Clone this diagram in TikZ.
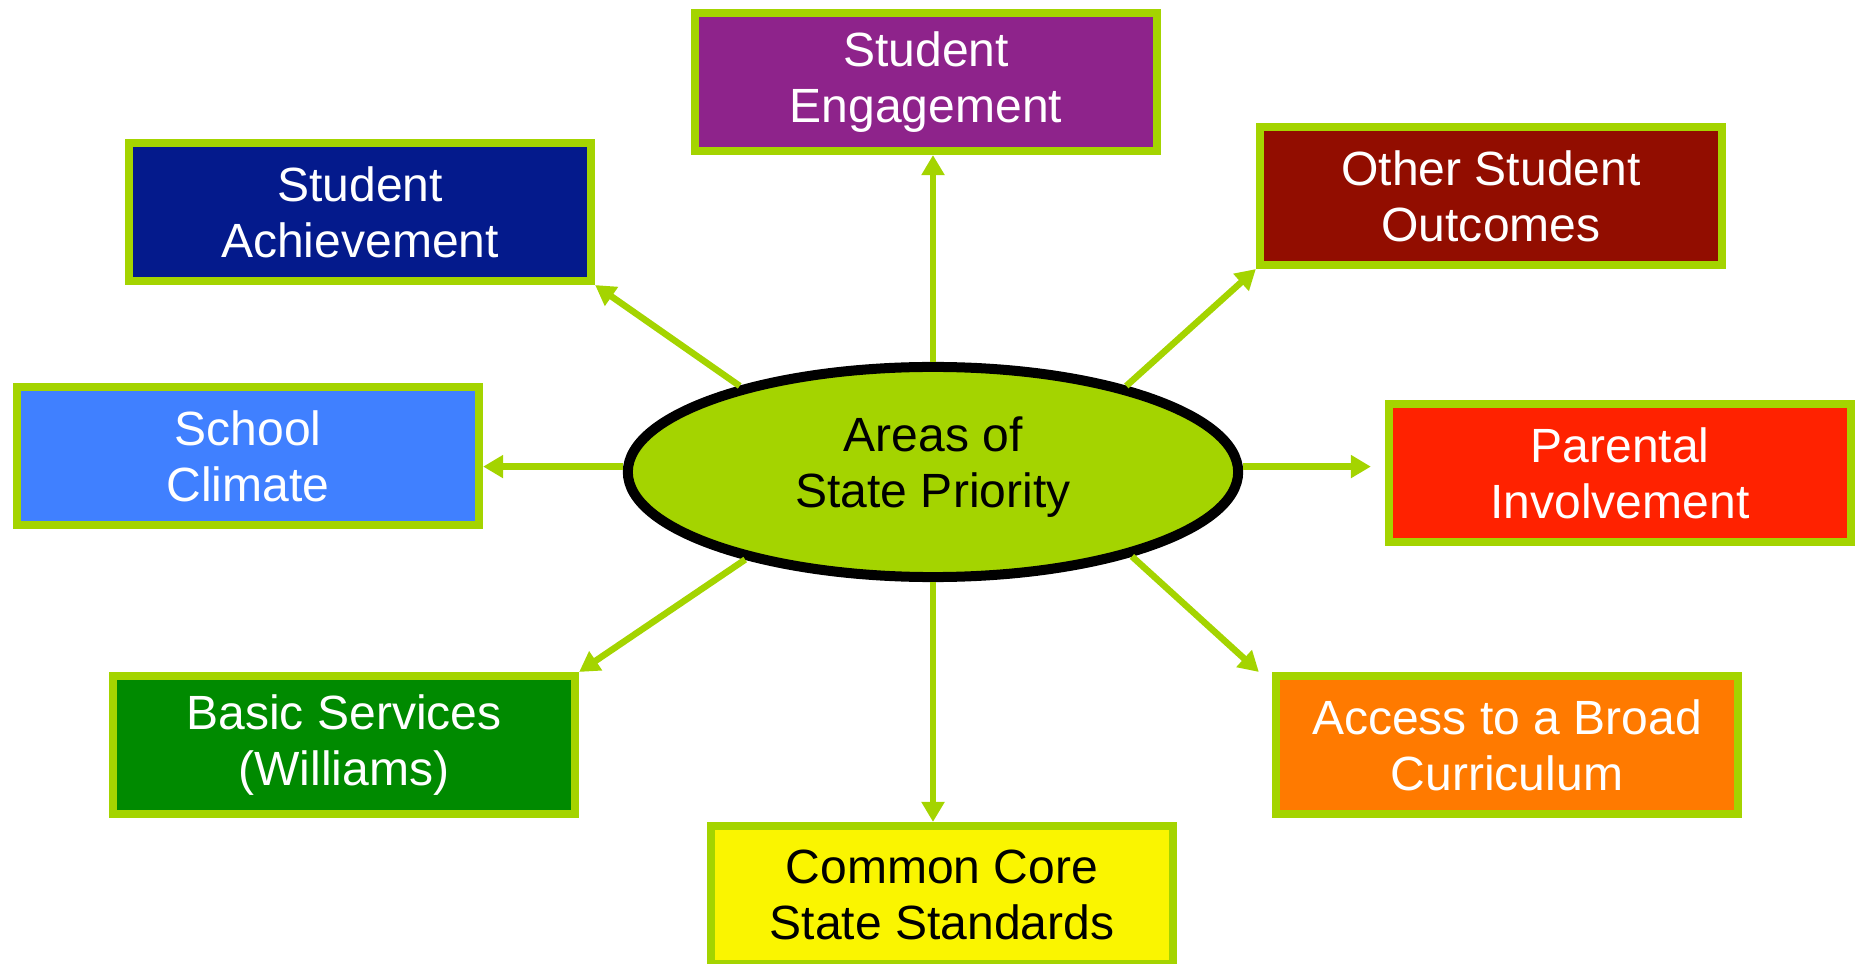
\documentclass[tikz,border=0pt]{standalone}
\usepackage{fontspec}
\setmainfont{Liberation Sans}
\usetikzlibrary{shapes.geometric,arrows.meta}

\definecolor{lime}{HTML}{A4D400}
\definecolor{engage}{HTML}{8E238B}
\definecolor{achieve}{HTML}{041A8C}
\definecolor{outcome}{HTML}{920D00}
\definecolor{climate}{HTML}{4080FF}
\definecolor{parent}{HTML}{FF2200}
\definecolor{basic}{HTML}{008A00}
\definecolor{access}{HTML}{FF7A00}
\definecolor{core}{HTML}{FAF500}

\begin{document}
\begin{tikzpicture}[x=0.01cm, y=-0.01cm,
  area/.style={draw=lime, line width=0.08cm, minimum width=4.62cm, minimum height=1.38cm,
    inner sep=0pt, align=center, text=white, font=\fontsize{13.66pt}{15.93pt}\selectfont},
  arr/.style={-{Triangle[length=0.2cm,width=0.22cm]}, draw=lime, line width=0.065cm}]
  \useasboundingbox (0,0) rectangle (1860,964);

  % Areas round the centre
  \node[area, fill=engage] (eng) at (926,82) {Student\\Engagement};
  \node[area, fill=achieve] (ach) at (360,212) {Student\\Achievement};
  \node[area, fill=outcome] (out) at (1491,196) {Other Student\\Outcomes};
  \node[area, fill=climate] (clim) at (248,456) {School\\Climate};
  \node[area, fill=parent] (par) at (1620,473) {Parental\\Involvement};
  \node[area, fill=basic] (bas) at (344,745) {Basic Services\\(Williams)};
  \node[area, fill=access] (acc) at (1507,745) {Access to a Broad\\Curriculum};
  \node[area, fill=core, text=black] (core) at (942,895) {Common Core\\State Standards};
  \coordinate (acctip) at ([xshift=-0.13cm]acc.north west);

  % Centre
  \node[ellipse, draw=black, line width=0.1cm, fill=lime, minimum width=6.1cm,
    minimum height=2.1cm, inner sep=0pt, align=center, text depth=0.2cm,
    font=\fontsize{13.66pt}{15.93pt}\selectfont] (areas) at (933,472) {Areas of\\State Priority};

  % Arrows
  \draw[arr] (areas.north) -- (areas.north |- eng.south);
  \draw[arr] (areas.south) -- (areas.south |- core.north);
  \draw[arr] (areas.179) -- (areas.179 -| clim.east);
  \draw[arr, shorten >=0.14cm] (areas.1) -- (areas.1 -| par.west);
  \draw[arr] (areas.156) -- (ach.south east);
  \draw[arr] (areas.24) -- (out.south west);
  \draw[arr] (areas.205) -- (bas.north east);
  \draw[arr] (areas.337) -- (acctip);
\end{tikzpicture}
\end{document}
